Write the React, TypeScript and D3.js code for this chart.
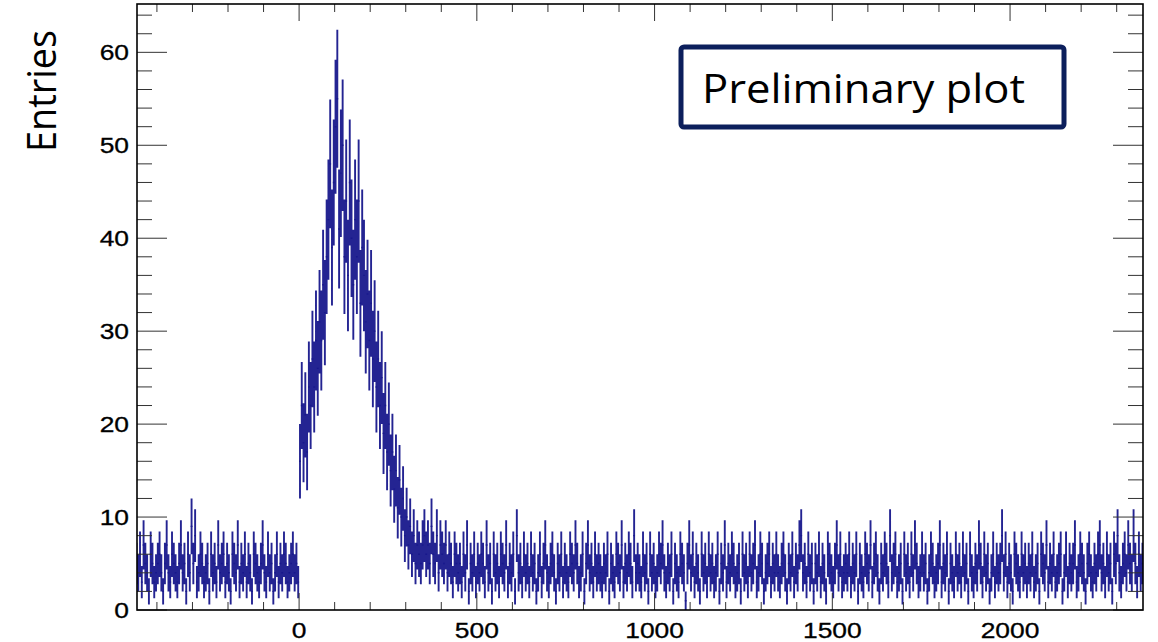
import React from "react";
import { range, scaleLinear } from "d3";

// histogram binning (units of the x axis)
const binStart = -460;
const binWidth = 5;

// counts, left sideband: -460 .. 0
const sidebandLeft = [
  5, 4, 6, 3, 7, 5, 4, 2, 6, 5,
  3, 4, 5, 6, 4, 2, 5, 7, 4, 3,
  6, 5, 4, 3, 5, 7, 4, 5, 2, 6,
  4, 9, 5, 8, 3, 4, 6, 5, 3, 4,
  5, 2, 6, 4, 5, 3, 7, 4, 5, 6,
  3, 5, 4, 2, 6, 5, 4, 7, 3, 5,
  4, 6, 3, 5, 4, 2, 6, 5, 4, 3,
  5, 7, 4, 3, 6, 4, 5, 2, 4, 6,
  3, 5, 4, 6, 5, 3, 4, 5, 6, 4,
  5, 3
];

// peak: 0 .. 350
const peakCounts = [
  16, 22, 18, 21, 17, 24, 22, 27, 24, 29,
  26, 31, 29, 35, 32, 38, 42, 48, 39, 46,
  52, 55, 41, 47, 50, 38, 44, 36, 46, 40,
  35, 42, 38, 44, 33, 39, 36, 31, 34, 29,
  33, 27, 30, 24, 27, 22, 25, 19, 22, 17,
  20, 15, 17, 13, 15, 11, 14, 10, 12, 8,
  10, 7, 9, 6, 8, 5, 7, 6, 5, 7
];

// tail: 350 .. 2380
const tailCounts = [
  8, 6, 7, 5, 9, 6, 5, 8, 4, 7, 6, 5, 7, 4, 6, 5, 3, 6, 5, 4,
  5, 3, 6, 4, 7, 2, 5, 4, 6, 3, 5, 4, 6, 5, 3, 7, 4, 5, 2, 6,
  4, 5, 3, 6, 5, 4, 7, 3, 5, 4, 6, 2, 8, 4, 5, 3, 6, 4, 5, 3,
  6, 4, 5, 2, 4, 6, 3, 5, 7, 4, 3, 5, 6, 4, 2, 5, 4, 6, 3, 5,
  4, 3, 6, 5, 4, 7, 5, 3, 4, 6, 2, 5, 7, 4, 5, 3, 6, 4, 5, 4,
  3, 5, 4, 6, 2, 5, 4, 3, 6, 5, 4, 7, 3, 5, 4, 6, 5, 3, 8, 4,
  5, 4, 3, 6, 4, 5, 2, 6, 4, 5, 3, 4, 6, 5, 7, 4, 3, 5, 4, 6,
  2, 5, 4, 3, 6, 5, 4, 1, 5, 7, 4, 6, 3, 5, 4, 2, 6, 4, 5, 3,
  6, 4, 5, 3, 4, 6, 2, 5, 4, 7, 3, 5, 4, 6, 5, 3, 4, 5, 2, 6,
  4, 5, 3, 6, 4, 5, 7, 3, 4, 6, 5, 2, 4, 5, 6, 3, 5, 4, 6, 4,
  3, 5, 6, 4, 2, 5, 4, 6, 3, 5, 4, 7, 8, 4, 5, 3, 6, 4, 5, 2,
  5, 4, 6, 3, 5, 4, 2, 6, 5, 4, 3, 5, 7, 4, 6, 3, 4, 5, 4, 6,
  3, 5, 4, 6, 2, 5, 4, 3, 6, 5, 4, 7, 3, 5, 6, 4, 2, 5, 4, 6,
  5, 3, 8, 4, 5, 6, 3, 4, 5, 2, 6, 4, 5, 3, 6, 4, 7, 5, 3, 4,
  6, 4, 5, 2, 4, 6, 5, 3, 4, 5, 7, 3, 5, 4, 6, 2, 5, 4, 3, 6,
  4, 5, 3, 6, 4, 5, 2, 6, 4, 3, 5, 4, 7, 5, 3, 6, 4, 5, 2, 4,
  6, 3, 5, 4, 5, 8, 4, 6, 3, 5, 4, 2, 6, 5, 4, 3, 6, 4, 5, 3,
  5, 4, 6, 3, 4, 5, 2, 6, 5, 4, 7, 3, 5, 4, 6, 3, 4, 5, 6, 2,
  4, 6, 3, 5, 4, 5, 7, 3, 4, 6, 5, 4, 2, 5, 6, 4, 3, 5, 4, 6,
  7, 4, 5, 3, 6, 4, 5, 2, 6, 5, 8, 4, 3, 5, 6, 4, 7, 5, 4, 8,
  5, 3, 6, 4, 5, 4
];

const xTickLabels = [0, 500, 1000, 1500, 2000];
const yTickLabels = [0, 10, 20, 30, 40, 50, 60];

const frame = { left: 137, right: 1143, top: 4, bottom: 610 };
const histColor = "#18188c";

export default function App() {
  const counts = [...sidebandLeft, ...peakCounts, ...tailCounts];

  const x = scaleLinear().domain([-456, 2374]).range([frame.left, frame.right]);
  const y = scaleLinear().domain([0, 65.2]).range([frame.bottom, frame.top]);

  const xMinor = range(-400, 2374, 100);
  const yMinor = range(0, 65, 2);

  // error bars (sqrt(n)) and bin lines
  let errs = "";
  let steps = "";
  counts.forEach((n, i) => {
    if (n <= 0) return;
    const x0 = x(binStart + i * binWidth);
    const x1 = x(binStart + (i + 1) * binWidth);
    const xc = (x0 + x1) / 2;
    const e = Math.sqrt(n);
    errs += `M${xc},${y(Math.max(0, n - e))}V${y(n + e)}`;
    steps += `M${x0},${y(n)}H${x1}`;
  });

  const font = "'Liberation Sans', Arial, sans-serif";

  return (
    <svg
      width={1158}
      height={642}
      style={{ position: "absolute", left: 0, top: 0, background: "#fff" }}
    >
      <defs>
        <clipPath id="plot-area">
          <rect
            x={frame.left}
            y={frame.top}
            width={frame.right - frame.left}
            height={frame.bottom - frame.top}
          />
        </clipPath>
      </defs>

      <g clipPath="url(#plot-area)">
        <path d={errs} stroke={histColor} strokeWidth={1.9} fill="none" opacity={0.95} />
        <path d={steps} stroke={histColor} strokeWidth={1.4} fill="none" opacity={0.95} />
      </g>

      {/* ticks */}
      <g stroke="#333" strokeWidth={1}>
        {xMinor.map(v => {
          const len = v % 500 === 0 ? 17 : 8;
          return (
            <g key={"xt" + v}>
              <line x1={x(v)} x2={x(v)} y1={frame.bottom} y2={frame.bottom - len} />
              <line x1={x(v)} x2={x(v)} y1={frame.top} y2={frame.top + len} />
            </g>
          );
        })}
        {yMinor.map(v => {
          const len = v % 10 === 0 ? 30 : 15;
          return (
            <g key={"yt" + v}>
              <line x1={frame.left} x2={frame.left + len} y1={y(v)} y2={y(v)} />
              <line x1={frame.right} x2={frame.right - len} y1={y(v)} y2={y(v)} />
            </g>
          );
        })}
      </g>

      <rect
        x={frame.left}
        y={frame.top}
        width={frame.right - frame.left}
        height={frame.bottom - frame.top}
        fill="none"
        stroke="#000"
        strokeWidth={1.6}
      />

      {/* tick labels */}
      <g fontFamily={font} fontSize={22} fill="#000" stroke="#000" strokeWidth={0.3}>
        {xTickLabels.map(v => (
          <text
            key={"xl" + v}
            transform={`translate(${x(v)},638) scale(1.2,1)`}
            textAnchor="middle"
          >
            {v}
          </text>
        ))}
        {yTickLabels.map(v => (
          <text
            key={"yl" + v}
            transform={`translate(129,${y(v) + 8}) scale(1.2,1)`}
            textAnchor="end"
          >
            {v}
          </text>
        ))}
      </g>

      <text
        transform="translate(56,91) rotate(-90)"
        textAnchor="middle"
        fontFamily="'Open Sans', sans-serif"
        fontSize={40}
        textLength={122}
        lengthAdjust="spacingAndGlyphs"
        fill="#000"
      >
        Entries
      </text>

      <rect
        x={681}
        y={47}
        width={383}
        height={80}
        rx={3}
        fill="#fff"
        stroke="#0c1f5c"
        strokeWidth={5}
      />
      <text
        x={702}
        y={103}
        fontFamily="'Open Sans', sans-serif"
        fontSize={40}
        textLength={323}
        lengthAdjust="spacingAndGlyphs"
        fill="#000"
      >
        Preliminary plot
      </text>
    </svg>
  );
}
